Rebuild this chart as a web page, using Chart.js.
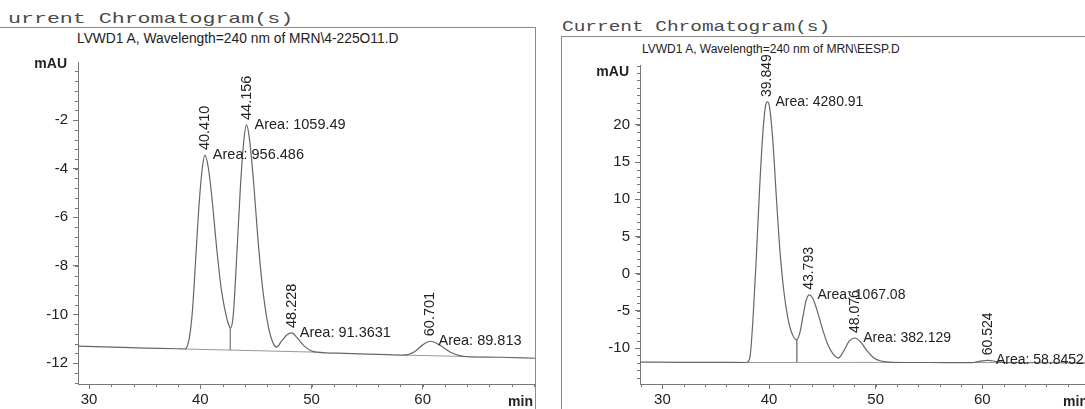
<!DOCTYPE html>
<html>
<head>
<meta charset="utf-8">
<script src="https://cdn.jsdelivr.net/npm/chart.js@4.4.1/dist/chart.umd.min.js"></script>
<style>
	body { margin: 0; background: #fff; }
	#page { position: relative; width: 1085px; height: 409px; overflow: hidden; font-family: "Liberation Sans", Arial, sans-serif; }
	.head { position: absolute; font-family: "Liberation Mono", monospace; font-size: 15px; line-height: 15px; color: #4a4a4a; transform-origin: 0 0; white-space: nowrap; }
	.sub { position: absolute; color: #222; white-space: nowrap; }
	.box { position: absolute; box-sizing: border-box; border: 1.5px solid #8a8a8a; }
	canvas { position: absolute; top: 0; }
</style>
</head>
<body>
<div id="page">
	<div class="head" style="left:8px;top:12px;transform:scaleX(1.44)">urrent Chromatogram(s)</div>
	<div class="box" style="left:-10px;top:27px;width:546px;height:400px"></div>
	<div class="sub" style="left:77px;top:31px;font-size:13.8px;line-height:15px">LVWD1 A, Wavelength=240 nm of MRN\4-225O11.D</div>
	<canvas id="chartLeft" width="540" height="409" style="left:0"></canvas>

	<div class="head" style="left:562px;top:20px;transform:scaleX(1.295)">Current Chromatogram(s)</div>
	<div class="box" style="left:561px;top:36px;width:600px;height:400px"></div>
	<div class="sub" style="left:642px;top:42px;font-size:12px;line-height:14px">LVWD1 A, Wavelength=240 nm of MRN\EESP.D</div>
	<canvas id="chartRight" width="550" height="409" style="left:545px"></canvas>
</div>

<script>
// ---- sample MRN\4-225O11.D (left) ----
var leftTime = [29.0, 32.0, 35.0, 38.0, 38.6, 39.0, 39.3, 39.6, 39.9, 40.2, 40.41, 40.7, 41.0, 41.5, 41.9, 42.3, 42.55, 42.7,
	42.95, 43.3, 43.6, 43.9, 44.156, 44.4, 44.8, 45.2, 45.6, 46.0, 46.4, 46.85, 47.3, 47.8, 48.228, 48.7, 49.3, 50.0, 50.5,
	53.0, 56.0, 58.3, 59.3, 60.0, 60.701, 61.5, 62.5, 63.5, 64.0, 67.0, 70.1];
var leftSignal = [-11.30, -11.34, -11.38, -11.41, -11.42, -11.00, -9.80, -7.60, -5.40, -3.90, -3.44, -3.90, -5.00, -7.40, -9.00, -10.00, -10.42, -10.56,
	-10.10, -7.40, -4.80, -2.90, -2.20, -2.70, -4.60, -7.00, -8.90, -10.20, -11.00, -11.34, -11.10, -10.83, -10.76, -10.95, -11.28, -11.50, -11.55,
	-11.60, -11.64, -11.67, -11.52, -11.25, -11.10, -11.25, -11.55, -11.71, -11.73, -11.76, -11.80];
var leftBaseTime = [38.6, 50.5, 50.5, 58.3, 64.0];
var leftBaseSignal = [-11.42, -11.55, null, -11.67, -11.73];
var leftDropTime = [42.7];
var leftDropTop = [-10.56];
var leftDropBottom = [-11.465];
var leftPeakTime = [40.410, 44.156, 48.228, 60.701];
var leftPeakArea = ['956.486', '1059.49', '91.3631', '89.813'];
var leftTicksX = [30, 40, 50, 60];
var leftTicksY = [-2, -4, -6, -8, -10, -12];

// ---- sample MRN\EESP.D (right) ----
var rightTime = [27.9, 32.0, 36.0, 37.9, 38.2, 38.5, 38.8, 39.1, 39.4, 39.65, 39.849, 40.05, 40.35, 40.7, 41.0, 41.4, 41.8, 42.2, 42.6,
	42.9, 43.2, 43.5, 43.793, 44.1, 44.5, 45.0, 45.5, 46.0, 46.5, 47.0, 47.5, 48.076, 48.6, 49.2, 49.8, 50.5, 51.5,
	55.0, 59.0, 59.6, 60.524, 61.3, 62.0, 66.0, 70.1];
var rightSignal = [-11.90, -11.92, -11.94, -11.95, -11.30, -6.0, 2.0, 11.0, 18.5, 22.4, 23.1, 22.4, 18.0, 10.0, 3.5, -2.5, -6.2, -8.2, -8.9,
	-7.9, -5.6, -3.5, -2.85, -3.3, -4.9, -7.4, -9.5, -10.8, -11.35, -10.4, -9.1, -8.65, -9.2, -10.4, -11.3, -11.75, -11.92,
	-11.95, -11.96, -11.82, -11.65, -11.82, -11.96, -11.98, -12.0];
var rightBaseTime = [37.9, 51.5, 51.5, 59.0, 62.0];
var rightBaseSignal = [-11.95, -11.93, null, -11.96, -11.96];
var rightDropTime = [42.6];
var rightDropTop = [-8.9];
var rightDropBottom = [-11.95];
var rightPeakTime = [39.849, 43.793, 48.076, 60.524];
var rightPeakArea = ['4280.91', '1067.08', '382.129', '58.8452'];
var rightTicksX = [30, 40, 50, 60];
var rightTicksY = [20, 15, 10, 5, 0, -5, -10];

var chrom = ( function () {

	var FONT = '"Liberation Sans", Arial, sans-serif';
	var AXIS = '#777';

	// small ticks between the labelled ones, 5 parts per major step
	var minorTicks = {
		id: 'minorTicks',
		afterDraw: function (chart, args, opts) {
			var ctx = chart.ctx;
			ctx.save();
			ctx.strokeStyle = AXIS;
			ctx.lineWidth = 1;
			ctx.beginPath();
			['x', 'y'].forEach(function (id) {
				var s = chart.scales[id];
				var step = opts[id];
				var start = Math.ceil(s.min / step);
				for (var i = start; i * step <= s.max; i++) {
					var p = Math.round(s.getPixelForValue(i * step)) + 0.5;
					if (id === 'x') {
						ctx.moveTo(p, s.top);
						ctx.lineTo(p, s.top + 3);
					} else {
						ctx.moveTo(s.right - 3, p);
						ctx.lineTo(s.right, p);
					}
				}
			});
			ctx.stroke();
			ctx.restore();
		}
	};

	var peakText = {
		id: 'peakText',
		afterDraw: function (chart, args, opts) {
			var ctx = chart.ctx, xs = chart.scales.x, ys = chart.scales.y;
			var area = chart.chartArea;
			ctx.save();
			ctx.fillStyle = '#222';
			ctx.textBaseline = 'middle';
			ctx.font = opts.size + 'px ' + FONT;
			opts.times.forEach(function (t, i) {
				var px = xs.getPixelForValue(t);
				var py = ys.getPixelForValue(opts.signal[opts.time.indexOf(t)]);
				ctx.save();
				ctx.translate(px, py - 5);
				ctx.rotate(-Math.PI / 2);
				ctx.textAlign = 'left';
				ctx.fillText(t.toFixed(3), 0, 0);
				ctx.restore();
				ctx.textAlign = 'left';
				ctx.fillText('Area: ' + opts.areas[i], px + 8, py);
			});
			ctx.font = 'bold 14px ' + FONT;
			ctx.textAlign = 'right';
			ctx.fillText('mAU', area.left - 11, area.top + opts.unitDy);
			ctx.fillText('min', area.right - 2, area.bottom + 18);
			ctx.restore();
		}
	};

	function points(xs, ys) {
		return xs.map(function (x, i) { return { x: x, y: ys[i] }; });
	}

	function dropPoints(xs, tops, bottoms) {
		var out = [];
		xs.forEach(function (x, i) {
			out.push({ x: x, y: tops[i] }, { x: x, y: bottoms[i] }, { x: x, y: null });
		});
		return out;
	}

	function publicBuild(canvasId, d) {
		var axisFont = { family: FONT, size: 15 };
		return new Chart(document.getElementById(canvasId), {
			type: 'line',
			data: {
				datasets: [{
					data: points(d.time, d.signal),
					borderColor: '#666',
					borderWidth: 1.2,
					pointRadius: 0,
					cubicInterpolationMode: 'monotone'
				}, {
					data: points(d.baseTime, d.baseSignal),
					borderColor: '#999',
					borderWidth: 1,
					pointRadius: 0,
					spanGaps: false
				}, {
					data: dropPoints(d.dropTime, d.dropTop, d.dropBottom),
					borderColor: '#888',
					borderWidth: 1,
					pointRadius: 0,
					spanGaps: false
				}]
			},
			options: {
				responsive: false,
				animation: false,
				layout: { padding: { top: d.top, right: 5, left: 0, bottom: 0 } },
				plugins: {
					legend: { display: false },
					tooltip: { enabled: false },
					minorTicks: { x: 2, y: d.minorY },
					peakText: { times: d.peakTime, areas: d.peakArea, time: d.time, signal: d.signal, size: d.labelSize, unitDy: d.unitDy }
				},
				scales: {
					x: {
						type: 'linear',
						min: d.xMin,
						max: d.xMax,
						afterBuildTicks: function (s) { s.ticks = d.ticksX.map(function (v) { return { value: v }; }); },
						afterFit: function (s) { s.height = 25; },
						grid: { drawOnChartArea: false, tickLength: 5, color: AXIS },
						border: { color: AXIS, width: 1 },
						ticks: { font: axisFont, color: '#222', padding: 2, maxRotation: 0 }
					},
					y: {
						min: d.yMin,
						max: d.yMax,
						afterBuildTicks: function (s) { s.ticks = d.ticksY.map(function (v) { return { value: v }; }); },
						afterFit: function (s) { s.width = d.yWidth; },
						grid: { drawOnChartArea: false, tickLength: 5, color: AXIS },
						border: { color: AXIS, width: 1 },
						ticks: { font: axisFont, color: '#222', padding: 5 }
					}
				}
			},
			plugins: [minorTicks, peakText]
		});
	}

	return {
		build: publicBuild
	};

})();

chrom.build('chartLeft', {
	time: leftTime, signal: leftSignal,
	baseTime: leftBaseTime, baseSignal: leftBaseSignal,
	dropTime: leftDropTime, dropTop: leftDropTop, dropBottom: leftDropBottom,
	peakTime: leftPeakTime, peakArea: leftPeakArea,
	ticksX: leftTicksX, ticksY: leftTicksY,
	xMin: 29.0, xMax: 70.1, yMin: -12.86, yMax: 0.39, minorY: 0.4,
	top: 62, yWidth: 78, labelSize: 14.5, unitDy: 2
});

chrom.build('chartRight', {
	time: rightTime, signal: rightSignal,
	baseTime: rightBaseTime, baseSignal: rightBaseSignal,
	dropTime: rightDropTime, dropTop: rightDropTop, dropBottom: rightDropBottom,
	peakTime: rightPeakTime, peakArea: rightPeakArea,
	ticksX: rightTicksX, ticksY: rightTicksY,
	xMin: 27.9, xMax: 70.1, yMin: -14.84, yMax: 28.07, minorY: 1,
	top: 65, yWidth: 95, labelSize: 14, unitDy: 7
});
</script>
</body>
</html>
